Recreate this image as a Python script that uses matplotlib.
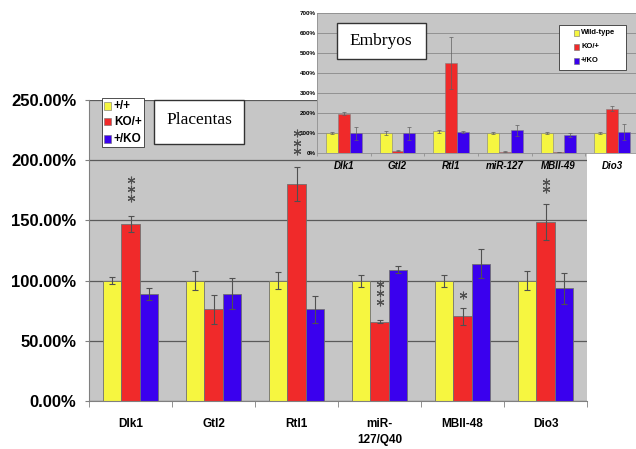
import matplotlib.pyplot as plt
import numpy as np
from matplotlib.patches import Rectangle

W, H = 636, 449

# placentas (main chart), percent of wild-type
genes = ['Dlk1', 'Gtl2', 'Rtl1', 'miR-\n127/Q40', 'MBII-48', 'Dio3']
plac_wt = [100, 100, 100, 100, 100, 100]
plac_wt_err = [3, 8, 7, 5, 5, 8]
plac_ko = [147, 76, 180, 66, 70.5, 149]
plac_ko_err = [7, 12, 14, 1, 7, 15]
plac_pko = [88.5, 89, 76, 109, 114, 93.5]
plac_pko_err = [5, 13, 11, 3, 12, 13]

# embryos (inset)
emb_genes = ['Dlk1', 'Gtl2', 'Rtl1', 'miR-127', 'MBII-49', 'Dio3']
emb_wt = [100, 100, 108, 100, 100, 100]
emb_wt_err = [3, 9, 8, 7, 7, 6]
emb_ko = [197, 12, 448, 6, 4, 222]
emb_ko_err = [8, 2, 130, 2, 1, 12]
emb_pko = [98, 98, 106, 114, 91, 104]
emb_pko_err = [31, 32, 5, 28, 11, 41]

# significance stars: (gene index, star heights in %)
stars = [(0, [183.5, 176.3, 168.8]), (2, [222.5, 214.5, 207.5]),
         (3, [96.9, 89.4, 82.2]), (4, [88]), (5, [182, 175.8])]

yellow, red, blue = '#f6f640', '#f02a2a', '#3a00ee'
bg = '#c6c6c6'

def fx(x): return x / W
def fy(y): return 1 - y / H

fig = plt.figure(figsize=(W / 100, H / 100), dpi=100)

def bars(ax, x, vals, errs, edge, lw, ecol, elw, cap):
    for off, v, e, c in zip([-0.22, 0, 0.22], vals, errs, [yellow, red, blue]):
        ax.bar(x + off, v, 0.22, color=c, edgecolor=edge, lw=lw, zorder=2)
        ax.errorbar(x + off, v, yerr=e, fmt='none', ecolor=ecol,
                    elinewidth=elw, capsize=cap, capthick=elw, zorder=3)

def style(ax, spine_col, spine_lw):
    ax.set_facecolor(bg)
    ax.set_xlim(-0.5, 5.5)
    ax.set_xticks(np.arange(-0.5, 6, 1), minor=True)
    ax.set_axisbelow(True)
    for s in ['top', 'right']:
        ax.spines[s].set_visible(False)
    for s in ['left', 'bottom']:
        ax.spines[s].set_color(spine_col)
        ax.spines[s].set_linewidth(spine_lw)

# ---- main chart
ax = fig.add_axes([fx(89), fy(401), (587 - 89) / W, (401 - 100) / H])
style(ax, '#808080', 0.8)
x = np.arange(len(genes))
bars(ax, x, [plac_wt, plac_ko, plac_pko], [plac_wt_err, plac_ko_err, plac_pko_err],
     '#707070', 0.6, '#505050', 0.8, 2.2)
ax.set_ylim(0, 250)
ax.set_yticks(np.arange(0, 251, 50))
ax.set_yticklabels(['%.2f%%' % v for v in np.arange(0, 251, 50)],
                   fontfamily='Liberation Sans', fontweight='bold', fontsize=12)
ax.set_xticks(x)
ax.set_xticklabels(genes, fontfamily='Liberation Sans', fontweight='bold', fontsize=8.5,
                   linespacing=1.5, va='top')
ax.tick_params(axis='x', which='major', length=0, pad=12)
ax.tick_params(axis='x', which='minor', length=4, color='#808080')
ax.tick_params(axis='y', length=3, color='#808080', pad=6)
ax.yaxis.grid(True, color='#5a5a5a', lw=0.9, zorder=1)
for gi, ys in stars:
    ax.plot([gi] * len(ys), ys, ls='none', marker=(6, 2, 0), ms=5.5, mew=0.8,
            color='#505050', zorder=4, clip_on=False)

# ---- embryos inset
ax2 = fig.add_axes([fx(317), fy(153), (639 - 317) / W, (153 - 13) / H])
style(ax2, '#909090', 0.6)
x2 = np.arange(len(emb_genes))
bars(ax2, x2, [emb_wt, emb_ko, emb_pko], [emb_wt_err, emb_ko_err, emb_pko_err],
     '#808080', 0.4, '#606060', 0.5, 1.5)
ax2.set_ylim(0, 700)
ax2.set_yticks(np.arange(0, 701, 100))
ax2.set_yticklabels(['%d%%' % v for v in np.arange(0, 701, 100)],
                    fontfamily='Liberation Sans', fontweight='bold', fontsize=4.5)
ax2.set_xticks(x2)
ax2.set_xticklabels(emb_genes, fontfamily='Liberation Sans', fontweight='bold',
                    fontstyle='italic', fontsize=7)
ax2.tick_params(axis='x', which='major', length=0, pad=6)
ax2.tick_params(axis='x', which='minor', length=2, color='#909090')
ax2.tick_params(axis='y', length=0, pad=1)
ax2.yaxis.grid(True, color='#8a8a8a', lw=0.6, zorder=1)

# ---- boxes and legends (pixel coordinates)
def box(x0, y0, x1, y1, lw=1.0):
    fig.patches.append(Rectangle((fx(x0), fy(y1)), (x1 - x0) / W, (y1 - y0) / H,
                                 transform=fig.transFigure, facecolor='white',
                                 edgecolor='#333333', lw=lw, zorder=5))

def legend(x0, y0, x1, y1, labels, ys, mx, ms, tx, fs):
    box(x0, y0, x1, y1, lw=0.6)
    for lab, yy, c in zip(labels, ys, [yellow, red, blue]):
        fig.patches.append(Rectangle((fx(mx), fy(yy + ms / 2)), ms / W, ms / H,
                                     transform=fig.transFigure, facecolor=c,
                                     edgecolor='#707070', lw=0.4, zorder=6))
        fig.text(fx(tx), fy(yy), lab, fontfamily='Liberation Sans', fontweight='bold',
                 fontsize=fs, va='center', ha='left', zorder=6)

box(154, 100, 244, 144)
fig.text(fx(199), fy(120), 'Placentas', fontfamily='Liberation Serif', fontsize=12.5,
         ha='center', va='center', zorder=6)
legend(102, 98, 144, 147, ['+/+', 'KO/+', '+/KO'], [106, 122, 139], 104, 7, 114, 8.5)

box(337, 23, 426, 59)
fig.text(fx(381), fy(41), 'Embryos', fontfamily='Liberation Serif', fontsize=12.5,
         ha='center', va='center', zorder=6)
legend(559, 25, 626, 70, ['Wild-type', 'KO/+', '+/KO'], [33, 47, 61], 574, 5, 581, 5.5)

fig.savefig('out.png', dpi=100)
